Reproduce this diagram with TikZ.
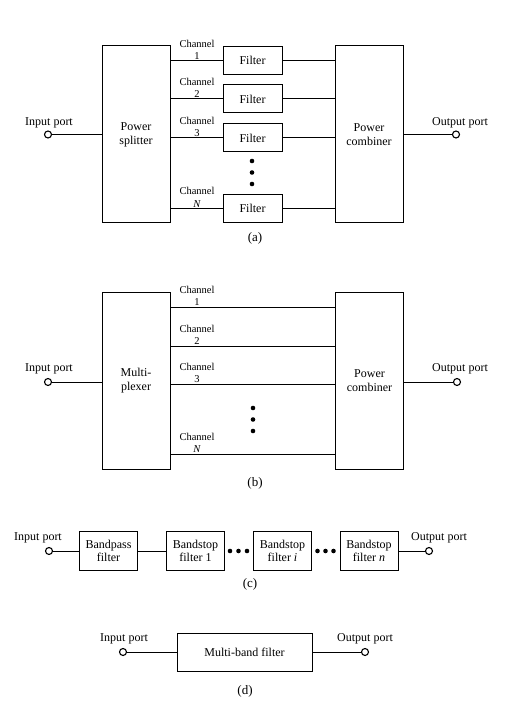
\documentclass[tikz,border=0pt]{standalone}
\usepackage{fontspec}
\setmainfont{Liberation Serif}
\begin{document}
\begin{tikzpicture}[x=1pt,y=-1pt,
  every node/.style={font=\fontsize{12}{14}\selectfont},
  blk/.style={draw,line width=1pt,minimum width=68pt,minimum height=177pt,align=center,inner sep=0pt},
  fbox/.style={draw,line width=1pt,minimum width=59pt,minimum height=28pt,inner sep=0pt},
  cbox/.style={draw,line width=1pt,minimum width=58pt,minimum height=39pt,align=center,inner sep=0pt,font=\fontsize{12}{13.5}\selectfont},
  port/.style={circle,draw,fill=white,line width=1.1pt,minimum size=7pt,inner sep=0pt},
  chl/.style={align=center,anchor=south,inner sep=1pt,font=\fontsize{10.5}{12.5}\selectfont},
  lbl/.style={inner sep=0pt},
  captxt/.style={inner sep=0pt,font=\fontsize{13}{15}\selectfont},
  wire/.style={line width=1pt},
  dotm/.style={circle,fill=black,minimum size=4.6pt,inner sep=0pt}]
\useasboundingbox (0,0) rectangle (508,708);

% ---------- (a) ----------
\node[blk] (ps) at (136,134.5) {Power\\splitter};
\node[blk] (pc) at (369,134.5) {Power\\combiner};
\node[fbox] (f1) at (252.5,60.5) {Filter};
\node[fbox] (f2) at (252.5,99) {Filter};
\node[fbox] (f3) at (252.5,138) {Filter};
\node[fbox] (fn) at (252.5,208.5) {Filter};
\foreach \f in {f1,f2,f3,fn}{
  \draw[wire] (\f.west) -- (\f.west -| ps.east);
  \draw[wire] (\f.east) -- (\f.east -| pc.west);
}
\node[chl] (ca1) at (197,61) {Channel\\1};
\node[chl] (ca2) at (197,99) {Channel\\2};
\node[chl] (ca3) at (197,138) {Channel\\3};
\node[chl] (can) at (197,208.5) {Channel\\\textit{N}};
\node[dotm] (da1) at (252,161) {};
\node[dotm] (da2) at (252,172.5) {};
\node[dotm] (da3) at (252,184) {};
\node[port] (ina) at (48,134.5) {};
\node[port] (outa) at (456,134.5) {};
\draw[wire] (ina) -- (ina -| ps.west);
\draw[wire] (outa) -- (outa -| pc.east);
\node[lbl] (ila) at (49,123) {Input port};
\node[lbl] (ola) at (460,123) {Output port};
\node[captxt] (capa) at (255,238) {(a)};

% ---------- (b) ----------
\node[blk] (mx) at (136,380.5) {Multi-\\plexer};
\node[blk] (pcb) at (369.5,380.5) {Power\\combiner};
\foreach \y/\n/\t in {307/cb1/1,346/cb2/2,384/cb3/3,454/cbn/\textit{N}}{
  \coordinate (\n) at (170,\y);
  \draw[wire] (\n) -- (\n -| pcb.west);
  \node[chl] (l\n) at (197,\y) {Channel\\\t};
}
\node[dotm] (db1) at (253,408) {};
\node[dotm] (db2) at (253,419.5) {};
\node[dotm] (db3) at (253,431) {};
\node[port] (inb) at (48,382) {};
\node[port] (outb) at (457,382) {};
\draw[wire] (inb) -- (inb -| mx.west);
\draw[wire] (outb) -- (outb -| pcb.east);
\node[lbl] (ilb) at (49,369) {Input port};
\node[lbl] (olb) at (460,369) {Output port};
\node[captxt] (capb) at (255,483) {(b)};

% ---------- (c) ----------
\node[cbox] (bp) at (108.5,551) {Bandpass\\filter};
\node[cbox] (bs1) at (195.5,551) {Bandstop\\filter 1};
\node[cbox] (bsi) at (282.5,551) {Bandstop\\filter \textit{i}};
\node[cbox] (bsn) at (369,551) {Bandstop\\filter \textit{n}};
\node[port] (inc) at (49,551) {};
\node[port] (outc) at (429,551) {};
\draw[wire] (inc) -- (bp);
\draw[wire] (bp) -- (bs1);
\draw[wire] (bsn) -- (outc);
\node[dotm] (dc1) at (230,551) {};
\node[dotm] (dc2) at (238.5,551) {};
\node[dotm] (dc3) at (247,551) {};
\node[dotm] (dc4) at (317.5,551) {};
\node[dotm] (dc5) at (325.5,551) {};
\node[dotm] (dc6) at (333.5,551) {};
\node[lbl] (ilc) at (38,538) {Input port};
\node[lbl] (olc) at (439,538) {Output port};
\node[captxt] (capc) at (250,584) {(c)};

% ---------- (d) ----------
\node[draw,line width=1pt,minimum width=135pt,minimum height=38pt,inner sep=0pt] (mb) at (244.5,652) {Multi-band filter};
\node[port] (ind) at (123,652) {};
\node[port] (outd) at (365,652) {};
\draw[wire] (ind) -- (mb);
\draw[wire] (mb) -- (outd);
\node[lbl] (ild) at (124,639) {Input port};
\node[lbl] (old) at (365,639) {Output port};
\node[captxt] (capd) at (245,691) {(d)};
\end{tikzpicture}
\end{document}
